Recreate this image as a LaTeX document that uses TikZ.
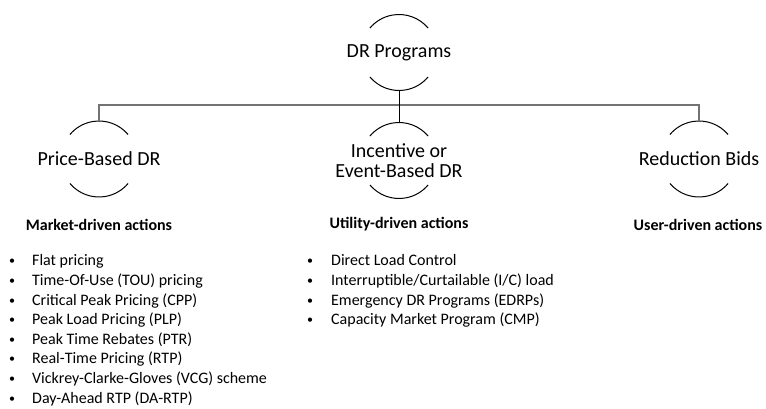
\documentclass[tikz,border=0pt]{standalone}
\usepackage{fontspec}
\setmainfont{Carlito}
\usepackage{array}

\tikzset{
  ring/.style={circle, minimum size=76pt, inner sep=0pt, outer sep=0pt},
  ringarc/.style={black, line width=1pt},
  bigtext/.style={font=\fontsize{20}{19.5}\selectfont, align=center, inner sep=0pt},
  headtext/.style={font=\fontsize{16}{19.6}\selectfont\bfseries, inner sep=0pt},
  listtext/.style={font=\fontsize{16}{19.6}\selectfont, inner sep=0pt, anchor=north west},
  busline/.style={draw=black!55, line width=1.6pt}
}
\newcommand{\bul}{\raisebox{1pt}{\fontsize{12}{12}\selectfont\textbullet}}

\begin{document}
\begin{tikzpicture}[x=1pt, y=-1pt]
        \useasboundingbox (0,0) rectangle (766,409);

        % rings
        \node[ring] (drring) at (399,52.5) {};
        \node[ring] (pricering) at (99,159) {};
        \node[ring] (incring) at (399,160.5) {};
        \node[ring] (reducring) at (699,159) {};

        % labels in the rings
        \node[bigtext] (drlabel) at (drring) {DR Programs};
        \node[bigtext] (pricelabel) at (pricering) {Price-Based DR};
        \node[bigtext] (inclabel) at (incring) {Incentive or\\Event-Based DR};
        \node[bigtext] (reduclabel) at (reducring) {Reduction Bids};

        % upper and lower arcs
        \draw[ringarc] (drring.40) arc[start angle=40, end angle=140, radius=38pt];
        \draw[ringarc] (drring.220) arc[start angle=220, end angle=320, radius=38pt];
        \draw[ringarc] (pricering.40) arc[start angle=40, end angle=140, radius=38pt];
        \draw[ringarc] (pricering.220) arc[start angle=220, end angle=320, radius=38pt];
        \draw[ringarc] (incring.40) arc[start angle=40, end angle=140, radius=38pt];
        \draw[ringarc] (incring.220) arc[start angle=220, end angle=320, radius=38pt];
        \draw[ringarc] (reducring.40) arc[start angle=40, end angle=140, radius=38pt];
        \draw[ringarc] (reducring.220) arc[start angle=220, end angle=320, radius=38pt];

        % tree lines
        \coordinate (bus) at (399,105);
        \draw[busline] (pricering.north) |- (bus) -| (reducring.north);
        \draw[ringarc] (drring.south) -- (incring.north);

        % headings
        \node[headtext] (pricehead) at (99,225) {Market-driven actions};
        \node[headtext] (inchead) at (399,224) {Utility-driven actions};
        \node[headtext] (reduchead) at (698,225) {User-driven actions};

        % lists
        \node[listtext] (pricelist) at (9,252) {%
          \begin{tabular}{@{}l@{\hspace{17pt}}l@{}}
            \bul & Flat pricing\\
            \bul & Time-Of-Use (TOU) pricing\\
            \bul & Critical Peak Pricing (CPP)\\
            \bul & Peak Load Pricing (PLP)\\
            \bul & Peak Time Rebates (PTR)\\
            \bul & Real-Time Pricing (RTP)\\
            \bul & Vickrey-Clarke-Gloves (VCG) scheme\\
            \bul & Day-Ahead RTP (DA-RTP)
          \end{tabular}};
        \node[listtext] (inclist) at (307,252) {%
          \begin{tabular}{@{}l@{\hspace{18pt}}l@{}}
            \bul & Direct Load Control\\
            \bul & Interruptible/Curtailable (I/C) load\\
            \bul & Emergency DR Programs (EDRPs)\\
            \bul & Capacity Market Program (CMP)
          \end{tabular}};
    \end{tikzpicture}
\end{document}
